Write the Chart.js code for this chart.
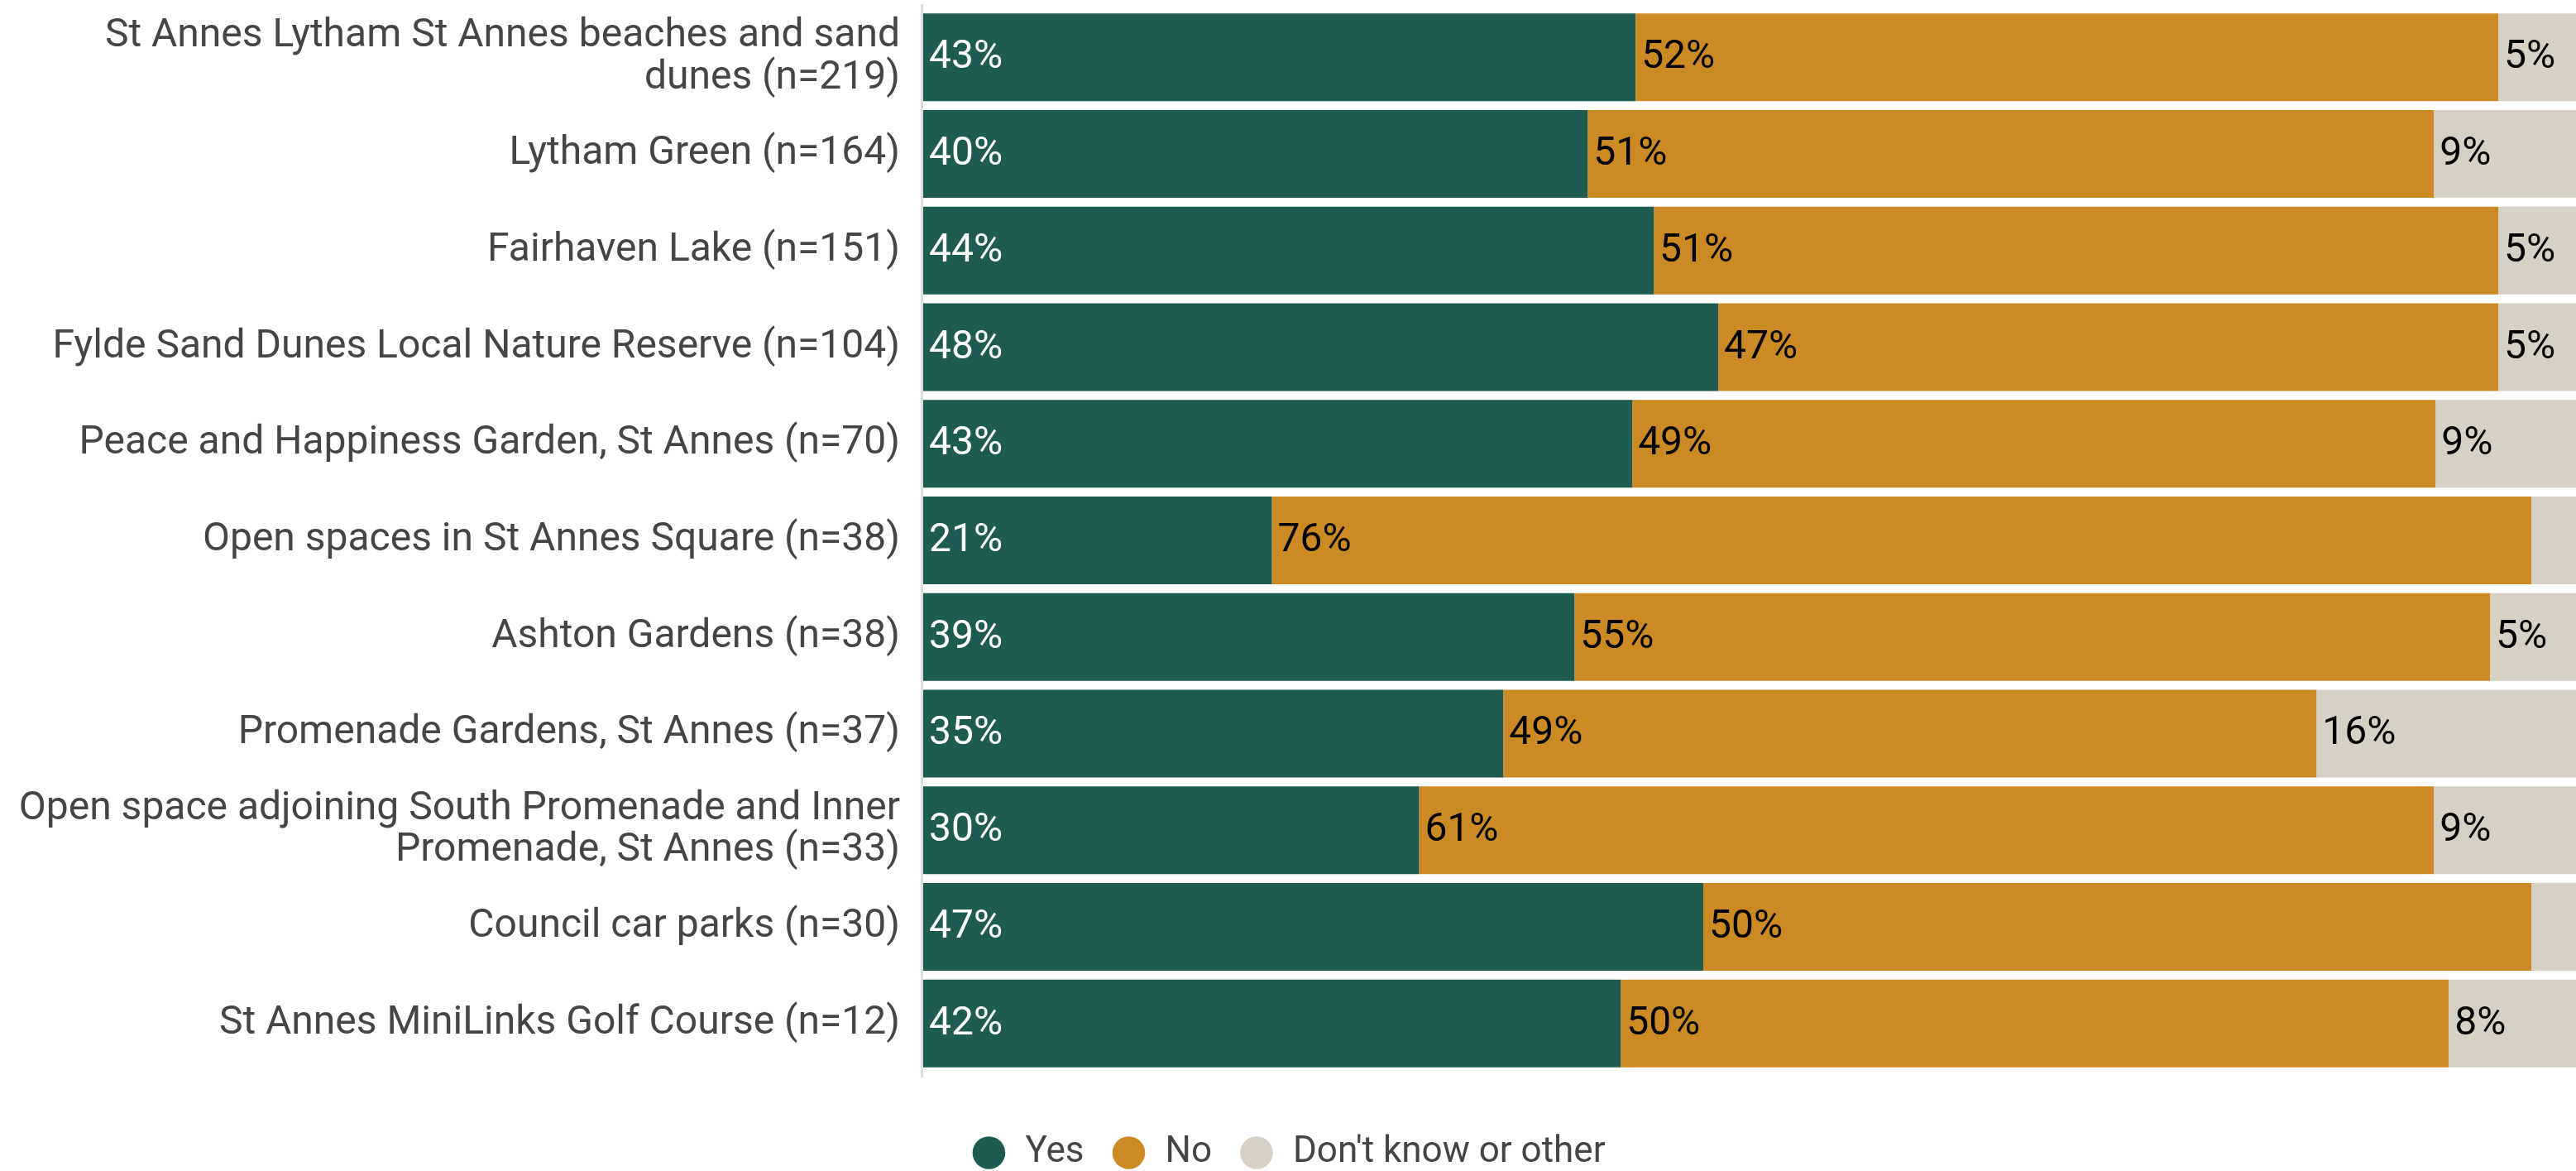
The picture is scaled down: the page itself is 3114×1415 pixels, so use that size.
<!DOCTYPE html>
<html>
<head>
<meta charset="utf-8">
<script src="https://cdn.jsdelivr.net/npm/chart.js@4/dist/chart.umd.min.js"></script>
<style>
  html, body { margin: 0; padding: 0; background: #ffffff; }
  #wrap { width: 3114px; height: 1415px; position: relative; }
</style>
</head>
<body>
<div id="wrap"><canvas id="c"></canvas></div>
<script>
const categories = [
  ["St Annes Lytham St Annes beaches and sand", "dunes (n=219)"],
  "Lytham Green (n=164)",
  "Fairhaven Lake (n=151)",
  "Fylde Sand Dunes Local Nature Reserve (n=104)",
  "Peace and Happiness Garden, St Annes (n=70)",
  "Open spaces in St Annes Square (n=38)",
  "Ashton Gardens (n=38)",
  "Promenade Gardens, St Annes (n=37)",
  ["Open space adjoining South Promenade and Inner", "Promenade, St Annes (n=33)"],
  "Council car parks (n=30)",
  "St Annes MiniLinks Golf Course (n=12)"
];
const seriesNames = ["Yes", "No", "Don't know or other"];
const yesValues   = [43.1, 40.2, 44.2, 48.1, 42.9, 21.1, 39.4, 35.1, 30.0, 47.2, 42.2];
const noValues    = [52.2, 51.2, 51.1, 47.2, 48.6, 76.2, 55.4, 49.2, 61.4, 50.1, 50.1];
const otherValues = [4.7, 8.6, 4.7, 4.7, 8.5, 2.7, 5.2, 15.7, 8.6, 2.7, 7.7];
const colors = ["#1e5b50", "#cc8a25", "#d7d0c5"];
const labelColors = ["#ffffff", "#000000", "#000000"];

const FONT = "Roboto, 'Liberation Sans', Arial, sans-serif";

const axisLine = {
  id: 'axisLine',
  beforeDatasetsDraw(chart) {
    const a = chart.chartArea;
    const ctx = chart.ctx;
    ctx.save();
    ctx.strokeStyle = '#dddddd';
    ctx.lineWidth = 3;
    ctx.beginPath();
    ctx.moveTo(a.left - 1.5, a.top - 6);
    ctx.lineTo(a.left - 1.5, a.bottom + 7);
    ctx.stroke();
    ctx.restore();
  }
};

const segmentLabels = {
  id: 'segmentLabels',
  afterDatasetsDraw(chart) {
    const ctx = chart.ctx;
    ctx.save();
    ctx.font = "48px " + FONT;
    ctx.textBaseline = 'middle';
    ctx.textAlign = 'left';
    chart.data.datasets.forEach((ds, di) => {
      const meta = chart.getDatasetMeta(di);
      meta.data.forEach((bar, i) => {
        const v = ds.data[i];
        if (v < 4) return;
        const start = Math.min(bar.x, bar.base);
        ctx.fillStyle = labelColors[di];
        ctx.fillText(Math.round(v) + '%', start + 7, bar.y + 1);
      });
    });
    ctx.restore();
  }
};

const legendPlace = {
  id: 'legendPlace',
  afterLayout(chart) {
    const lg = chart.legend;
    if (lg) {
      const h = lg.bottom - lg.top;
      lg.top = chart.height - 76;
      lg.bottom = lg.top + h;
    }
  }
};

new Chart(document.getElementById('c'), {
  type: 'bar',
  data: {
    labels: categories,
    datasets: [
      { label: seriesNames[0], data: yesValues, backgroundColor: colors[0] },
      { label: seriesNames[1], data: noValues, backgroundColor: colors[1] },
      { label: seriesNames[2], data: otherValues, backgroundColor: colors[2] }
    ]
  },
  options: {
    indexAxis: 'y',
    responsive: true,
    maintainAspectRatio: false,
    animation: false,
    devicePixelRatio: 1,
    layout: { padding: { top: 11, left: 0, right: 0, bottom: 34 } },
    datasets: { bar: { categoryPercentage: 1.0, barPercentage: 0.908, borderWidth: 0 } },
    scales: {
      x: { stacked: true, min: 0, max: 100, display: false },
      y: {
        stacked: true,
        grid: { display: false, drawTicks: false },
        border: { display: false },
        ticks: {
          color: '#454545',
          padding: 28,
          font: { family: FONT, size: 48, lineHeight: 1.05 }
        },
        afterFit(scale) {
          scale.width = 1116;
          scale.paddingTop = 0;
          scale.paddingBottom = 0;
        }
      }
    },
    plugins: {
      tooltip: { enabled: false },
      legend: {
        position: 'bottom',
        align: 'center',
        labels: {
          usePointStyle: true,
          pointStyle: 'circle',
          boxWidth: 44,
          boxHeight: 28,
          padding: 32,
          color: '#454545',
          font: { family: FONT, size: 44 }
        }
      }
    }
  },
  plugins: [axisLine, segmentLabels, legendPlace]
});
</script>
</body>
</html>
